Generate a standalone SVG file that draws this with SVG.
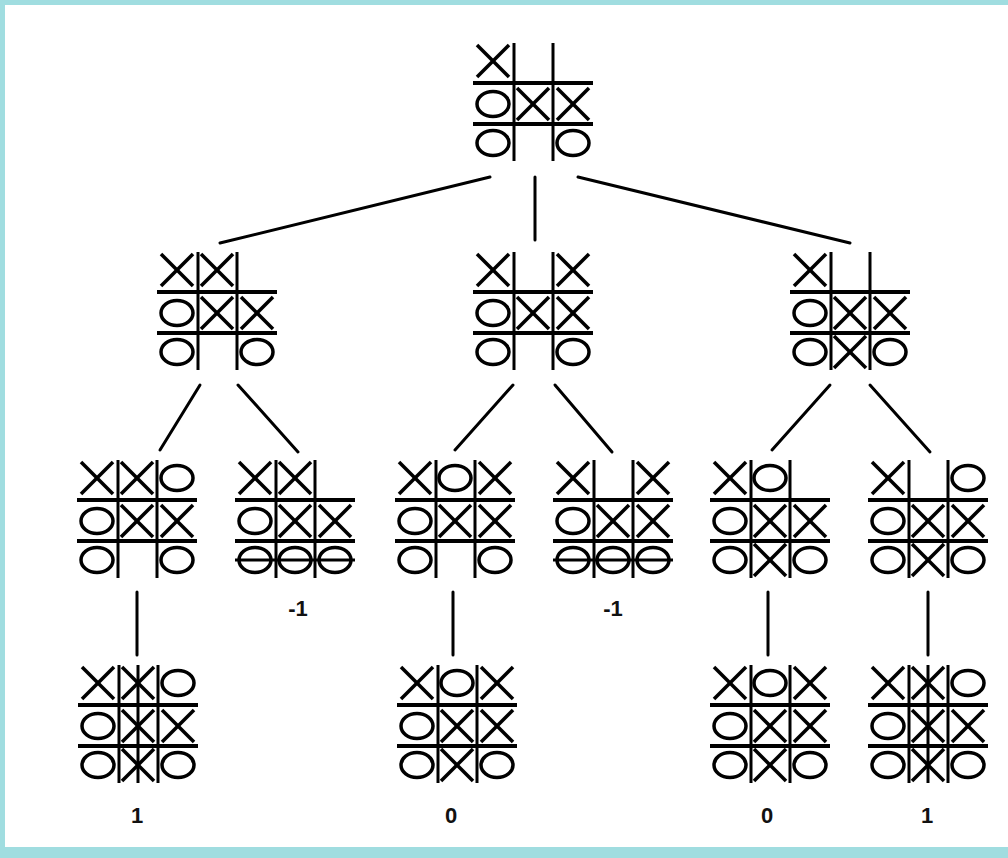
<svg xmlns="http://www.w3.org/2000/svg" xmlns:xlink="http://www.w3.org/1999/xlink" width="1008" height="858" viewBox="0 0 1008 858">
<style>
.grid line{stroke:#000;stroke-width:3}
.grid line.h{stroke-width:4}
.mark{fill:none;stroke:#000;stroke-width:3.5}
.win{stroke:#000;stroke-width:3}
.conn line{stroke:#000;stroke-width:3;stroke-linecap:round}
.lbl{font-family:"Liberation Sans",Arial,sans-serif;font-weight:bold;font-size:22px;text-anchor:middle;fill:#111}
</style>
<defs>
<g id="X" class="mark"><line x1="-16" y1="-16" x2="16" y2="16"/><line x1="16" y1="-16" x2="-16" y2="16"/></g>
<ellipse id="O" class="mark" cx="0" cy="0" rx="16" ry="12.5"/>
<g id="grid" class="grid"><line class="h" x1="0" y1="40" x2="120" y2="40"/><line class="h" x1="0" y1="81" x2="120" y2="81"/><line x1="41" y1="0" x2="41" y2="118"/><line x1="80" y1="0" x2="80" y2="118"/></g>
</defs>
<rect x="0" y="0" width="1008" height="858" fill="#a0dde0"/>
<rect x="5" y="5" width="1003" height="842" fill="#ffffff"/>

<g id="connectors" class="conn">
<line x1="490" y1="177" x2="220" y2="243"/>
<line x1="535" y1="177" x2="535" y2="240"/>
<line x1="578" y1="177" x2="850" y2="243"/>
<line x1="200" y1="385" x2="160" y2="450"/>
<line x1="238" y1="385" x2="298" y2="452"/>
<line x1="513" y1="385" x2="455" y2="450"/>
<line x1="555" y1="385" x2="612" y2="452"/>
<line x1="830" y1="385" x2="772" y2="450"/>
<line x1="870" y1="385" x2="930" y2="452"/>
<line x1="137" y1="592" x2="137" y2="655"/>
<line x1="453" y1="592" x2="453" y2="655"/>
<line x1="768" y1="592" x2="768" y2="655"/>
<line x1="928" y1="592" x2="928" y2="655"/>
</g>

<g id="root" transform="translate(473,43)">
<use xlink:href="#grid"/>
<use xlink:href="#X" x="20" y="18"/>
<use xlink:href="#O" x="20" y="61"/><use xlink:href="#X" x="60" y="61"/><use xlink:href="#X" x="100" y="61"/>
<use xlink:href="#O" x="20" y="100"/><use xlink:href="#O" x="100" y="100"/>
</g>

<g id="n1" transform="translate(157,252)">
<use xlink:href="#grid"/>
<use xlink:href="#X" x="20" y="18"/><use xlink:href="#X" x="60" y="18"/>
<use xlink:href="#O" x="20" y="61"/><use xlink:href="#X" x="60" y="61"/><use xlink:href="#X" x="100" y="61"/>
<use xlink:href="#O" x="20" y="100"/><use xlink:href="#O" x="100" y="100"/>
</g>

<g id="n2" transform="translate(473,252)">
<use xlink:href="#grid"/>
<use xlink:href="#X" x="20" y="18"/><use xlink:href="#X" x="100" y="18"/>
<use xlink:href="#O" x="20" y="61"/><use xlink:href="#X" x="60" y="61"/><use xlink:href="#X" x="100" y="61"/>
<use xlink:href="#O" x="20" y="100"/><use xlink:href="#O" x="100" y="100"/>
</g>

<g id="n3" transform="translate(790,252)">
<use xlink:href="#grid"/>
<use xlink:href="#X" x="20" y="18"/>
<use xlink:href="#O" x="20" y="61"/><use xlink:href="#X" x="60" y="61"/><use xlink:href="#X" x="100" y="61"/>
<use xlink:href="#O" x="20" y="100"/><use xlink:href="#X" x="60" y="100"/><use xlink:href="#O" x="100" y="100"/>
</g>

<g id="n11" transform="translate(77,460)">
<use xlink:href="#grid"/>
<use xlink:href="#X" x="20" y="18"/><use xlink:href="#X" x="60" y="18"/><use xlink:href="#O" x="100" y="18"/>
<use xlink:href="#O" x="20" y="61"/><use xlink:href="#X" x="60" y="61"/><use xlink:href="#X" x="100" y="61"/>
<use xlink:href="#O" x="20" y="100"/><use xlink:href="#O" x="100" y="100"/>
</g>

<g id="n12" transform="translate(235,460)">
<use xlink:href="#grid"/>
<use xlink:href="#X" x="20" y="18"/><use xlink:href="#X" x="60" y="18"/>
<use xlink:href="#O" x="20" y="61"/><use xlink:href="#X" x="60" y="61"/><use xlink:href="#X" x="100" y="61"/>
<use xlink:href="#O" x="20" y="100"/><use xlink:href="#O" x="60" y="100"/><use xlink:href="#O" x="100" y="100"/>
<line class="win" x1="0" y1="100" x2="120" y2="100"/>
</g>
<text class="lbl" x="298" y="616">-1</text>

<g id="n21" transform="translate(395,460)">
<use xlink:href="#grid"/>
<use xlink:href="#X" x="20" y="18"/><use xlink:href="#O" x="60" y="18"/><use xlink:href="#X" x="100" y="18"/>
<use xlink:href="#O" x="20" y="61"/><use xlink:href="#X" x="60" y="61"/><use xlink:href="#X" x="100" y="61"/>
<use xlink:href="#O" x="20" y="100"/><use xlink:href="#O" x="100" y="100"/>
</g>

<g id="n22" transform="translate(553,460)">
<use xlink:href="#grid"/>
<use xlink:href="#X" x="20" y="18"/><use xlink:href="#X" x="100" y="18"/>
<use xlink:href="#O" x="20" y="61"/><use xlink:href="#X" x="60" y="61"/><use xlink:href="#X" x="100" y="61"/>
<use xlink:href="#O" x="20" y="100"/><use xlink:href="#O" x="60" y="100"/><use xlink:href="#O" x="100" y="100"/>
<line class="win" x1="0" y1="100" x2="120" y2="100"/>
</g>
<text class="lbl" x="613" y="616">-1</text>

<g id="n31" transform="translate(710,460)">
<use xlink:href="#grid"/>
<use xlink:href="#X" x="20" y="18"/><use xlink:href="#O" x="60" y="18"/>
<use xlink:href="#O" x="20" y="61"/><use xlink:href="#X" x="60" y="61"/><use xlink:href="#X" x="100" y="61"/>
<use xlink:href="#O" x="20" y="100"/><use xlink:href="#X" x="60" y="100"/><use xlink:href="#O" x="100" y="100"/>
</g>

<g id="n32" transform="translate(868,460)">
<use xlink:href="#grid"/>
<use xlink:href="#X" x="20" y="18"/><use xlink:href="#O" x="100" y="18"/>
<use xlink:href="#O" x="20" y="61"/><use xlink:href="#X" x="60" y="61"/><use xlink:href="#X" x="100" y="61"/>
<use xlink:href="#O" x="20" y="100"/><use xlink:href="#X" x="60" y="100"/><use xlink:href="#O" x="100" y="100"/>
</g>

<g id="n111" transform="translate(78,665)">
<use xlink:href="#grid"/>
<use xlink:href="#X" x="20" y="18"/><use xlink:href="#X" x="60" y="18"/><use xlink:href="#O" x="100" y="18"/>
<use xlink:href="#O" x="20" y="61"/><use xlink:href="#X" x="60" y="61"/><use xlink:href="#X" x="100" y="61"/>
<use xlink:href="#O" x="20" y="100"/><use xlink:href="#X" x="60" y="100"/><use xlink:href="#O" x="100" y="100"/>
<line class="win" x1="60" y1="0" x2="60" y2="118"/>
</g>
<text class="lbl" x="137" y="823">1</text>

<g id="n211" transform="translate(397,665)">
<use xlink:href="#grid"/>
<use xlink:href="#X" x="20" y="18"/><use xlink:href="#O" x="60" y="18"/><use xlink:href="#X" x="100" y="18"/>
<use xlink:href="#O" x="20" y="61"/><use xlink:href="#X" x="60" y="61"/><use xlink:href="#X" x="100" y="61"/>
<use xlink:href="#O" x="20" y="100"/><use xlink:href="#X" x="60" y="100"/><use xlink:href="#O" x="100" y="100"/>
</g>
<text class="lbl" x="451" y="823">0</text>

<g id="n311" transform="translate(710,665)">
<use xlink:href="#grid"/>
<use xlink:href="#X" x="20" y="18"/><use xlink:href="#O" x="60" y="18"/><use xlink:href="#X" x="100" y="18"/>
<use xlink:href="#O" x="20" y="61"/><use xlink:href="#X" x="60" y="61"/><use xlink:href="#X" x="100" y="61"/>
<use xlink:href="#O" x="20" y="100"/><use xlink:href="#X" x="60" y="100"/><use xlink:href="#O" x="100" y="100"/>
</g>
<text class="lbl" x="767" y="823">0</text>

<g id="n321" transform="translate(868,665)">
<use xlink:href="#grid"/>
<use xlink:href="#X" x="20" y="18"/><use xlink:href="#X" x="60" y="18"/><use xlink:href="#O" x="100" y="18"/>
<use xlink:href="#O" x="20" y="61"/><use xlink:href="#X" x="60" y="61"/><use xlink:href="#X" x="100" y="61"/>
<use xlink:href="#O" x="20" y="100"/><use xlink:href="#X" x="60" y="100"/><use xlink:href="#O" x="100" y="100"/>
<line class="win" x1="60" y1="0" x2="60" y2="118"/>
</g>
<text class="lbl" x="927" y="823">1</text>
</svg>
